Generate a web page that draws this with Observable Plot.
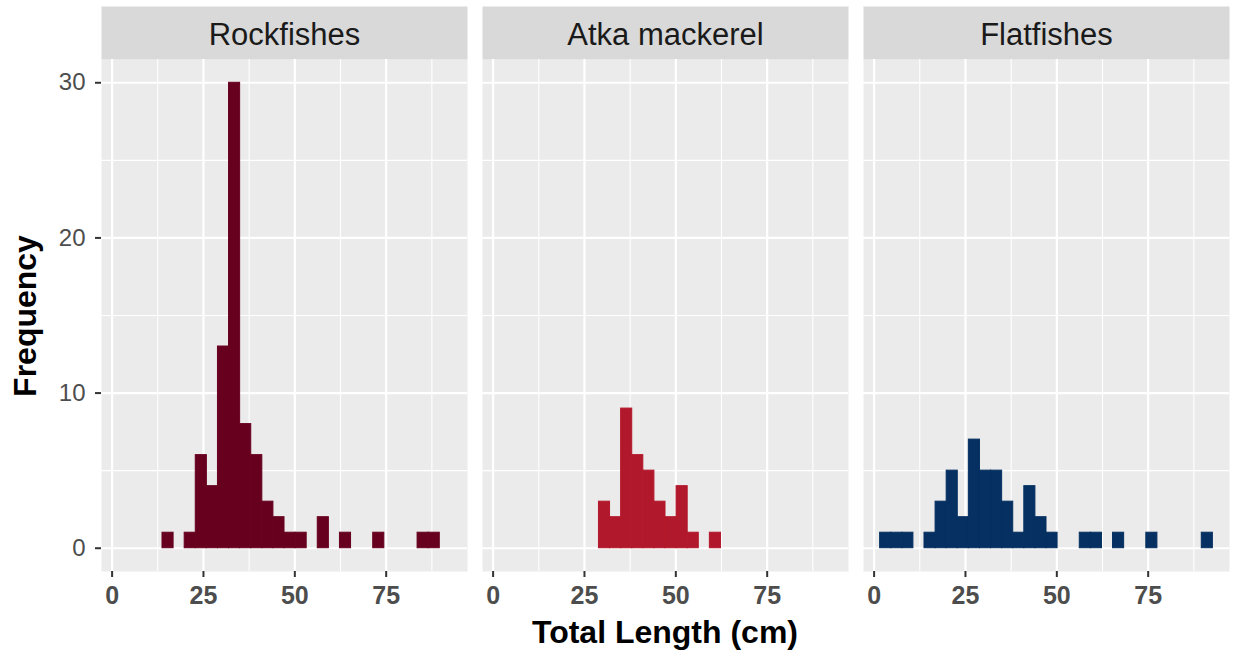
<!DOCTYPE html>
<html>
<head>
<meta charset="utf-8">
<script src="https://cdn.jsdelivr.net/npm/d3@7"></script>
<script src="https://cdn.jsdelivr.net/npm/@observablehq/plot@0.6"></script>
<style>
  html, body { margin: 0; padding: 0; background: #fff; }
  #wrap { position: relative; width: 1235px; height: 655px; font-family: "Liberation Sans", Arial, sans-serif; }
  #wrap svg { position: absolute; left: 0; top: 0; }
  .title { position: absolute; font-weight: 700; font-size: 32px; line-height: 1; color: #000; white-space: nowrap; }
  #ylab { left: 25px; top: 316px; transform: translate(-50%, -50%) rotate(-90deg); }
  #xlab { left: 665px; top: 632px; transform: translate(-50%, -50%); }
  g[aria-label="x-axis tick label"] text { font-weight: bold; }
</style>
</head>
<body>
<div id="wrap">
  <div class="title" id="ylab">Frequency</div>
  <div class="title" id="xlab">Total Length (cm)</div>
</div>
<script>
// ---- data ----
const species = ["Rockfishes", "Atka mackerel", "Flatfishes"];
const speciesColors = ["#67001F", "#B2182B", "#053061"];
// 30 histogram bins: first bin starts at binMin, each binWidth cm wide
const binMin = 1.65;
const binWidth = 3.035;
const rockfishCounts = [0,0,0,0,1,0,1,6,4,13,30,8,6,3,2,1,1,0,2,0,1,0,0,1,0,0,0,1,1,0];
const atkaCounts     = [0,0,0,0,0,0,0,0,0,3,2,9,6,5,3,2,4,1,0,1,0,0,0,0,0,0,0,0,0,0];
const flatfishCounts = [1,1,1,0,1,3,5,2,7,5,5,3,1,4,2,1,0,0,1,1,0,1,0,0,1,0,0,0,0,1];
const xTicks = [0, 25, 50, 75];
const xMinorTicks = [12.5, 37.5, 62.5, 87.5];
const yTicks = [0, 10, 20, 30];
const yMinorTicks = [5, 15, 25];

// ---- build table ----
const countsBySpecies = [rockfishCounts, atkaCounts, flatfishCounts];
const bars = [];
species.forEach((s, i) => {
  countsBySpecies[i].forEach((c, k) => {
    if (c > 0) bars.push({species: s, x1: binMin + k * binWidth, x2: binMin + (k + 1) * binWidth, count: c});
  });
});
const dataMin = binMin, dataMax = binMin + 30 * binWidth;
const xPad = (dataMax - dataMin) * 0.05;

const chart = Plot.plot({
  width: 1235,
  height: 655,
  marginTop: 59,
  marginBottom: 84,
  marginLeft: 100,
  marginRight: 5,
  style: {fontFamily: "Liberation Sans, Arial, sans-serif", background: "transparent"},
  fx: {domain: species, axis: null, paddingInner: 15 / 381.67, paddingOuter: 0},
  x: {domain: [dataMin - xPad, dataMax + xPad]},
  y: {domain: [-1.5, 31.5]},
  color: {domain: species, range: speciesColors},
  marks: [
    Plot.frame({fill: "#EBEBEB"}),
    Plot.frame({fill: "#D9D9D9", insetTop: -53, insetBottom: 512}),
    Plot.gridX({ticks: xMinorTicks, stroke: "#fff", strokeOpacity: 1, strokeWidth: 1.1}),
    Plot.gridY({ticks: yMinorTicks, stroke: "#fff", strokeOpacity: 1, strokeWidth: 1.1}),
    Plot.gridX({ticks: xTicks, stroke: "#fff", strokeOpacity: 1, strokeWidth: 2.2}),
    Plot.gridY({ticks: yTicks, stroke: "#fff", strokeOpacity: 1, strokeWidth: 2.2}),
    Plot.rectY(bars, {x1: "x1", x2: "x2", y: "count", fx: "species", fill: "species", stroke: "species", strokeWidth: 1, inset: 0}),
    Plot.axisY({ticks: yTicks, tickSize: 6, tickPadding: 10, fontSize: 24, fill: "#4D4D4D", stroke: "#333", strokeWidth: 2, label: null}),
    Plot.axisX({ticks: xTicks, tickSize: 6, tickPadding: 9, fontSize: 25, fontWeight: "bold", fill: "#4D4D4D", stroke: "#333", strokeWidth: 2, label: null}),
    Plot.text(species, {fx: d => d, text: d => d, frameAnchor: "top", dy: -37, fontSize: 31, fill: "#1A1A1A"})
  ]
});
document.getElementById("wrap").prepend(chart);
</script>
</body>
</html>
